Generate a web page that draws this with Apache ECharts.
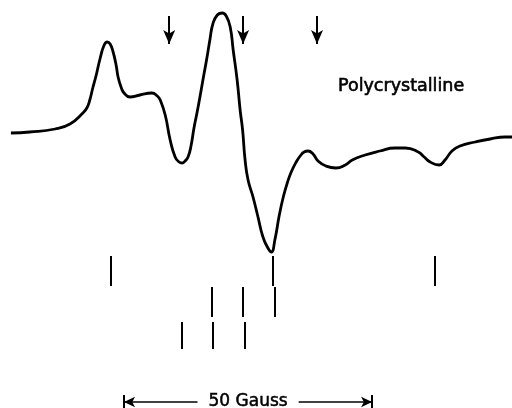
<!DOCTYPE html>
<html><head><meta charset="utf-8">
<script src="https://cdn.jsdelivr.net/npm/echarts@6/dist/echarts.min.js"></script>
<style>html,body{margin:0;padding:0;background:#fff}#c{width:512px;height:408px}</style>
</head><body><div id="c"></div>
<script>
// Magnetic field offset (Gauss) and derivative ESR signal (arbitrary units)
const field = [-22.8,-19.0,-13.9,-10.9,-8.3,-7.5,-6.9,-6.3,-5.6,-4.8,-4.0,-3.4,-2.8,-2.2,-1.6,-1.2,-0.6,0,1.2,3.2,5.6,6.7,7.3,8.3,9.3,10.3,11.1,11.7,12.3,12.9,13.5,14.1,14.7,15.3,15.9,16.7,17.3,17.9,18.8,19.8,20.6,21.4,22.0,22.8,23.4,23.9,24.4,25.0,26.0,27.0,28.0,29.0,29.7,30.4,31.3,32.1,32.9,33.7,34.7,35.5,36.3,37.1,38.1,39.1,40.7,42.7,44.6,46.0,48.6,51.6,54.6,56.7,59.3,60.5,61.7,63.5,64.7,66.1,67.7,70.8,73.8,76.8,78.2];
const signal = [0,1,4,9,20,25,33,45,58,75,88,91,89,81,68,56,46,40,36,38,40,37,33,18,-7,-24,-29,-30,-28,-24,-13,5,20,36,53,75,93,109,118,120,117,106,83,53,23,3,-27,-47,-64,-84,-104,-115,-119,-107,-82,-64,-50,-39,-29,-23,-19,-18,-21,-28,-33,-35,-32,-27,-22,-18,-15,-15,-19,-24,-29,-32,-27,-18,-13,-9,-6,-4,-4];
// Arrow positions (Gauss)
const arrowField = [9.1, 24.0, 38.9];
const arrowTop = 117, arrowEnd = 89;
// Stick diagram rows: positions (Gauss) and vertical extents (signal units)
const row1 = [-2.6, 30.0, 62.7];
const row2 = [17.7, 24.0, 30.4];
const row3 = [11.7, 17.9, 24.4];
const row1Y = [-123, -153];
const row2Y = [-154, -184];
const row3Y = [-189, -216];
// Scale bar
const scaleStart = 0, scaleEnd = 50, scaleY = -269, scaleLabel = '50 Gauss';
const title = 'Polycrystalline';

function sticks(xs, ys){ return xs.map(x => [{coord:[x, ys[0]]},{coord:[x, ys[1]]}]); }

const chart = echarts.init(document.getElementById('c'));
chart.setOption({
  animation: false,
  backgroundColor: '#fff',
  title: { text: title, left: 338, top: 77, padding: 0,
    textStyle: { fontFamily: 'DejaVu Sans', fontSize: 17.5, fontWeight: 'normal', color: '#000',
      textBorderColor: '#000', textBorderWidth: 0.6 } },
  grid: { left: 0, right: 0, top: 0, bottom: 0 },
  xAxis: { type: 'value', min: -25, max: 78.2, show: false },
  yAxis: { type: 'value', min: -275, max: 133, show: false },
  series: [
    { type: 'line', data: field.map((f,i)=>[f, signal[i]]), smooth: 0.5,
      showSymbol: false, lineStyle: { color: '#000', width: 2.8 }, silent: true },
    { type: 'line', data: [], silent: true,
      markLine: { silent: true, symbol: ['none','arrow'], symbolSize: [9,14],
        lineStyle: { color: '#000', width: 2, type: 'solid' }, label: { show: false },
        data: arrowField.map(x => [{coord:[x, arrowTop]},{coord:[x, arrowEnd]}]) } },
    { type: 'line', data: [], silent: true,
      markLine: { silent: true, symbol: ['none','none'],
        lineStyle: { color: '#000', width: 2, type: 'solid' }, label: { show: false },
        data: [].concat(sticks(row1,row1Y), sticks(row2,row2Y), sticks(row3,row3Y),
          sticks([scaleStart, scaleEnd], [scaleY+7, scaleY-6])) } },
    { type: 'line', data: [], silent: true,
      markLine: { silent: true, symbol: ['arrow','arrow'], symbolSize: [8,11],
        lineStyle: { color: '#000', width: 1.5, type: 'solid' },
        label: { show: true, position: 'middle', distance: 0, verticalAlign: 'middle', formatter: scaleLabel, color: '#000',
          fontFamily: 'DejaVu Sans', fontSize: 17, backgroundColor: '#fff', padding: [1, 11, 0, 11],
          textBorderColor: '#000', textBorderWidth: 0.5 },
        data: [[{coord:[scaleStart, scaleY]},{coord:[scaleEnd, scaleY]}]] } }
  ]
});
</script></body></html>
